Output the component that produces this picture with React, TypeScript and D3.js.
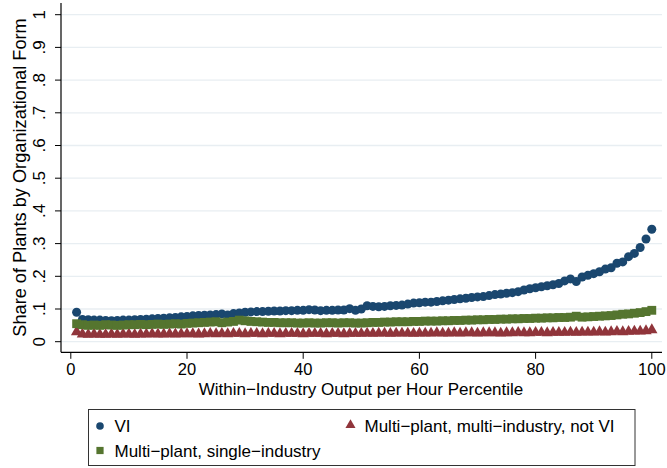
import React from "react";
import * as d3 from "d3";

const percentiles: number[] = d3.range(1, 101);

const viValues: number[] = [
  0.090, 0.068, 0.067, 0.066, 0.066, 0.065, 0.064, 0.065, 0.066, 0.066,
  0.067, 0.068, 0.069, 0.070, 0.071, 0.072, 0.073, 0.074, 0.076, 0.077,
  0.079, 0.080, 0.081, 0.082, 0.083, 0.085, 0.082, 0.086, 0.088, 0.090,
  0.091, 0.092, 0.092, 0.093, 0.094, 0.094, 0.095, 0.095, 0.096, 0.096,
  0.098, 0.097, 0.095, 0.096, 0.096, 0.097, 0.097, 0.101, 0.096, 0.100,
  0.110, 0.108, 0.107, 0.108, 0.110, 0.111, 0.112, 0.115, 0.118, 0.119,
  0.121, 0.121, 0.123, 0.125, 0.127, 0.129, 0.131, 0.133, 0.135, 0.137,
  0.138, 0.141, 0.144, 0.146, 0.148, 0.150, 0.153, 0.158, 0.162, 0.165,
  0.168, 0.171, 0.174, 0.178, 0.186, 0.192, 0.184, 0.198, 0.203, 0.208,
  0.214, 0.222, 0.226, 0.240, 0.244, 0.260, 0.270, 0.288, 0.314, 0.344,
];

const multiNotViValues: number[] = [
  0.030, 0.023, 0.022, 0.023, 0.022, 0.022, 0.023, 0.022, 0.023, 0.023,
  0.022, 0.023, 0.023, 0.024, 0.023, 0.023, 0.024, 0.023, 0.024, 0.024,
  0.024, 0.023, 0.024, 0.025, 0.024, 0.025, 0.024, 0.025, 0.025, 0.024,
  0.025, 0.025, 0.024, 0.025, 0.025, 0.024, 0.025, 0.025, 0.025, 0.024,
  0.025, 0.025, 0.025, 0.024, 0.025, 0.025, 0.024, 0.025, 0.025, 0.025,
  0.026, 0.025, 0.026, 0.026, 0.025, 0.026, 0.026, 0.026, 0.025, 0.026,
  0.026, 0.026, 0.027, 0.026, 0.026, 0.027, 0.026, 0.027, 0.027, 0.026,
  0.027, 0.027, 0.027, 0.026, 0.027, 0.027, 0.028, 0.027, 0.027, 0.028,
  0.028, 0.027, 0.028, 0.028, 0.028, 0.029, 0.028, 0.029, 0.029, 0.029,
  0.030, 0.029, 0.030, 0.031, 0.030, 0.031, 0.032, 0.032, 0.033, 0.036,
];

const singleIndustryValues: number[] = [
  0.055, 0.052, 0.050, 0.051, 0.050, 0.052, 0.051, 0.050, 0.051, 0.052,
  0.052, 0.053, 0.052, 0.053, 0.054, 0.053, 0.054, 0.055, 0.054, 0.056,
  0.057, 0.058, 0.059, 0.060, 0.061, 0.058, 0.060, 0.062, 0.066, 0.064,
  0.062, 0.061, 0.060, 0.059, 0.059, 0.058, 0.058, 0.058, 0.057, 0.057,
  0.058, 0.057, 0.057, 0.058, 0.058, 0.057, 0.058, 0.058, 0.057, 0.057,
  0.058, 0.059, 0.059, 0.060, 0.060, 0.061, 0.061, 0.061, 0.062, 0.062,
  0.063, 0.063, 0.063, 0.064, 0.064, 0.065, 0.065, 0.066, 0.066, 0.067,
  0.067, 0.068, 0.068, 0.069, 0.069, 0.070, 0.070, 0.071, 0.071, 0.072,
  0.072, 0.073, 0.073, 0.074, 0.074, 0.075, 0.078, 0.075, 0.076, 0.077,
  0.078, 0.079, 0.080, 0.082, 0.084, 0.085, 0.087, 0.089, 0.092, 0.096,
];

const xTicks: number[] = [0, 20, 40, 60, 80, 100];
const yTicks: number[] = [0, 0.1, 0.2, 0.3, 0.4, 0.5, 0.6, 0.7, 0.8, 0.9, 1];
const yTickLabels: string[] = ["0", ".1", ".2", ".3", ".4", ".5", ".6", ".7", ".8", ".9", "1"];

const xTitle = "Within\u2212Industry Output per Hour Percentile";
const yTitle = "Share of Plants by Organizational Form";
const legendVI = "VI";
const legendMultiNotVI = "Multi\u2212plant, multi\u2212industry, not VI";
const legendSingle = "Multi\u2212plant, single\u2212industry";

const NAVY = "#1a476f";
const MAROON = "#90353b";
const GREEN = "#55752f";
const GRID = "#e8eef2";
const FONT = "'Liberation Sans', Arial, sans-serif";

export default function App() {
  const W = 667;
  const H = 468;
  const x = d3.scaleLinear().domain([0, 100]).range([70.8, 651.8]);
  const y = d3.scaleLinear().domain([0, 1]).range([341.7, 14.7]);
  const plotLeft = 61;
  const plotRight = 662;
  const axisY = 352.3;
  const plotTop = 3;

  const triPath = d3.symbol().type(d3.symbolTriangle).size(56)() as string;
  const sqPath = d3.symbol().type(d3.symbolSquare).size(78)() as string;
  const triLegend = d3.symbol().type(d3.symbolTriangle).size(44)() as string;
  const sqLegend = d3.symbol().type(d3.symbolSquare).size(52)() as string;

  return (
    <svg width={W} height={H} style={{ position: "absolute", left: 0, top: 0, background: "#fff" }} fontFamily={FONT}>
      <rect x={0} y={0} width={W} height={H} fill="#fff" />
      {yTicks.map((t) => (
        <line key={"g" + t} x1={plotLeft} x2={plotRight} y1={y(t)} y2={y(t)} stroke={GRID} strokeWidth={1.3} />
      ))}
      <line x1={plotLeft} x2={plotLeft} y1={plotTop} y2={axisY} stroke="#000" strokeWidth={1.2} />
      {yTicks.map((t, i) => (
        <g key={"yt" + t}>
          <line x1={plotLeft - 6} x2={plotLeft} y1={y(t)} y2={y(t)} stroke="#000" strokeWidth={1} />
          <text
            transform={`translate(${45},${y(t)}) rotate(-90)`}
            textAnchor="middle"
            fontSize={17}
            fill="#000"
          >
            {yTickLabels[i]}
          </text>
        </g>
      ))}
      <text transform={`translate(${26},${177.5}) rotate(-90)`} textAnchor="middle" fontSize={18.2} fill="#000">
        {yTitle}
      </text>
      <line x1={plotLeft} x2={plotRight} y1={axisY} y2={axisY} stroke="#000" strokeWidth={1.2} />
      {xTicks.map((t) => (
        <g key={"xt" + t}>
          <line x1={x(t)} x2={x(t)} y1={axisY} y2={axisY + 6.5} stroke="#000" strokeWidth={1} />
          <text x={x(t)} y={375} textAnchor="middle" fontSize={16.5} fill="#000">
            {t}
          </text>
        </g>
      ))}
      <text x={361} y={394.5} textAnchor="middle" fontSize={17} fill="#000">
        {xTitle}
      </text>
      <g>
        {percentiles.map((p, i) => (
          <circle key={"vi" + p} cx={x(p)} cy={y(viValues[i])} r={4.5} fill={NAVY} />
        ))}
      </g>
      <g>
        {percentiles.map((p, i) => (
          <path key={"mn" + p} d={triPath} transform={`translate(${x(p)},${y(multiNotViValues[i])})`} fill={MAROON} />
        ))}
      </g>
      <g>
        {percentiles.map((p, i) => (
          <path key={"si" + p} d={sqPath} transform={`translate(${x(p)},${y(singleIndustryValues[i])})`} fill={GREEN} />
        ))}
      </g>
      <rect x={88.5} y={409.5} width={546.5} height={56} fill="#fff" stroke="#333" strokeWidth={1} />
      <circle cx={100} cy={426} r={3.8} fill={NAVY} />
      <text x={114.5} y={432} fontSize={17} fill="#000">{legendVI}</text>
      <path d={triLegend} transform={`translate(${350.5},${425})`} fill={MAROON} />
      <text x={364.5} y={432} fontSize={17} fill="#000">{legendMultiNotVI}</text>
      <path d={sqLegend} transform={`translate(${100},${450.5})`} fill={GREEN} />
      <text x={114.5} y={457} fontSize={17} fill="#000">{legendSingle}</text>
    </svg>
  );
}
